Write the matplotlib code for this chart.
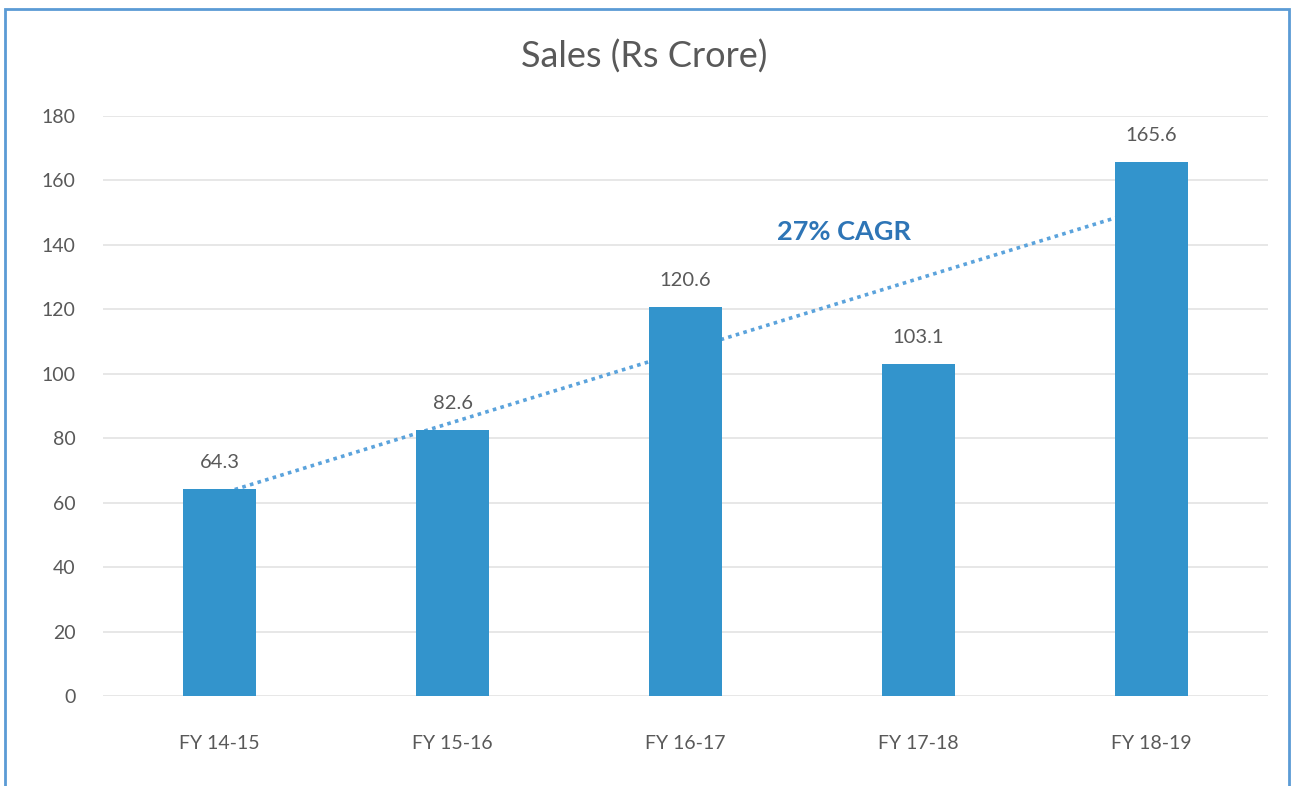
import numpy as np
import matplotlib
matplotlib.use('Agg')
import matplotlib.pyplot as plt
from matplotlib.patches import Rectangle

# data
years = ['FY 14-15', 'FY 15-16', 'FY 16-17', 'FY 17-18', 'FY 18-19']
sales = [64.3, 82.6, 120.6, 103.1, 165.6]
yticks = [0, 20, 40, 60, 80, 100, 120, 140, 160, 180]
cagr_label = '27% CAGR'

bar_color = '#3394CC'
trend_color = '#5BA3DC'
text_grey = '#595959'

plt.rcParams['font.family'] = ['Lato', 'DejaVu Sans']

fig = plt.figure(figsize=(12.93, 7.86), dpi=100)
ax = fig.add_axes([0.0797, 0.1145, 0.9010, 0.7379])

x = np.arange(len(years))
ax.bar(x, sales, width=0.31, color=bar_color, zorder=3)

# linear trendline (drawn behind the bars, like excel)
k, b = np.polyfit(x, sales, 1)
ax.plot(x, k * x + b, linestyle=(0, (1, 1.2)), color=trend_color, lw=2.6, zorder=2)

for xi, v in zip(x, sales):
    ax.annotate('%.1f' % v, (xi, v), xytext=(0, 13), textcoords='offset points',
                ha='center', va='bottom', fontsize=14.5, color=text_grey)

ax.text(2.68, 144, cagr_label, ha='center', va='center', fontsize=19.5,
        fontweight='bold', color='#2E75B6')

ax.set_xlim(-0.5, 4.5)
ax.set_ylim(0, 180)
ax.set_yticks(yticks)
ax.set_xticks(x)
ax.set_xticklabels(years)
ax.tick_params(axis='both', length=0, labelsize=14, labelcolor=text_grey)
ax.tick_params(axis='x', pad=28)
ax.tick_params(axis='y', pad=20)
ax.grid(axis='y', color='#E3E3E3', lw=1.2, zorder=0)
ax.set_axisbelow(True)
for s in ax.spines.values():
    s.set_visible(False)

fig.text(0.4985, 0.928, 'Sales (Rs Crore)', ha='center', va='center',
         fontsize=26, color=text_grey)

# light blue frame round the chart
fig.patches.append(Rectangle((5 / 1293, -0.05), 1284 / 1293, 1.05 - 9 / 786,
                             transform=fig.transFigure, fill=False,
                             edgecolor='#5B9BD5', lw=2, clip_on=False))

fig.savefig('out.png', dpi=100)
